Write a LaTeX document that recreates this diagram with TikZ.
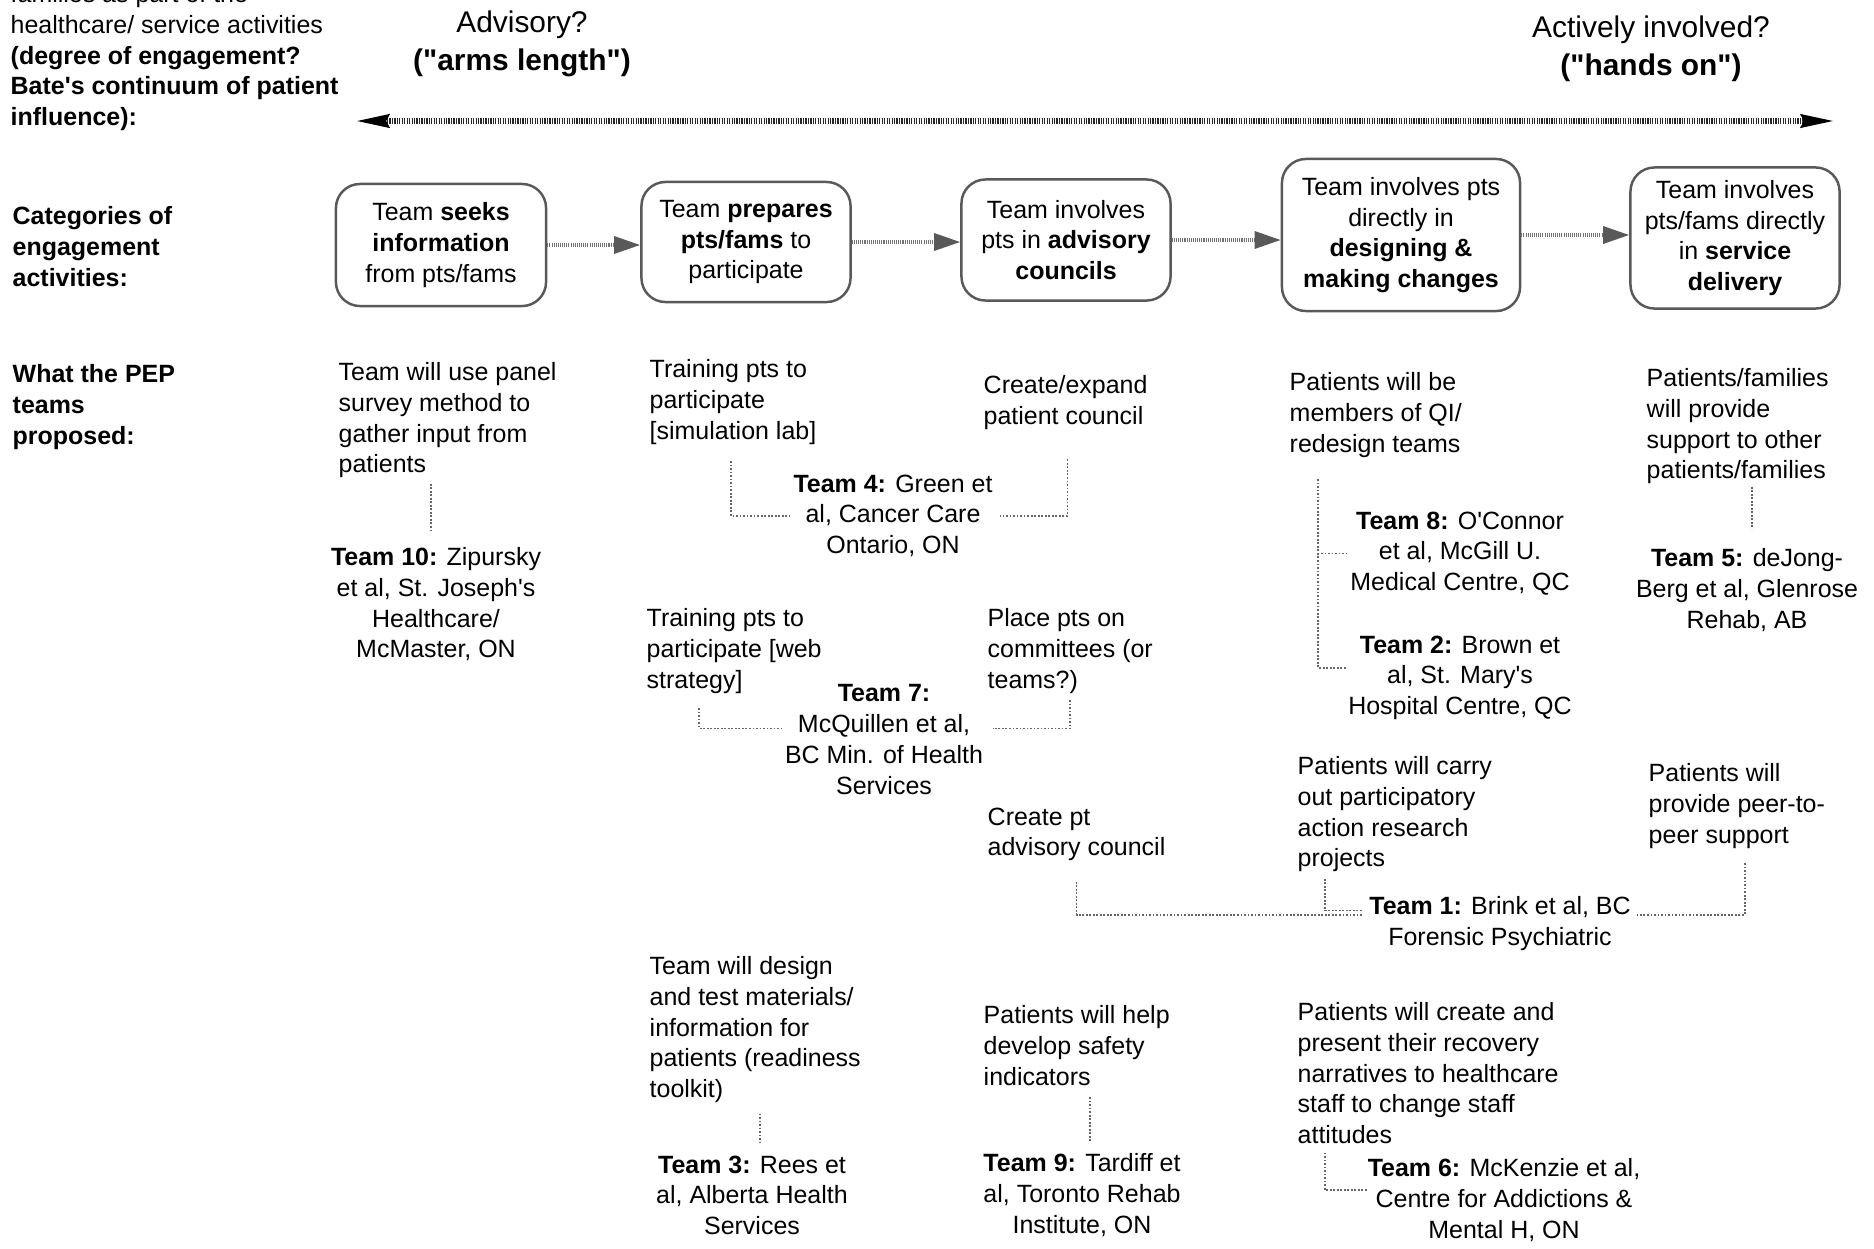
\documentclass[tikz,border=0pt]{standalone}
\usepackage{fontspec}
\setmainfont{Liberation Sans}
\usetikzlibrary{arrows.meta,positioning,calc}

\begin{document}
\begin{tikzpicture}[x=0.01cm,y=-0.01cm,
    font=\fontsize{7.1}{8.73}\selectfont,
    txt/.style={anchor=north west,align=left,inner sep=0pt},
    head/.style={txt,font=\fontsize{7.1}{8.73}\selectfont\bfseries},
    team/.style={anchor=north,align=center,inner sep=0pt},
    big/.style={font=\fontsize{8.5}{10.9}\selectfont},
    stage/.style={draw=black!65,line width=0.7pt,rounded corners=0.24cm,align=center,inner sep=0pt},
    flow/.style={black!55,line width=0.9pt,dash pattern=on 0.3pt off 0.3pt,
      -{Triangle[length=2.6mm,width=1.7mm,color=black!65,fill=black!65]}},
    continuum/.style={black!85,line width=1.5pt,dash pattern=on 0.35pt off 0.35pt,
      {Stealth[length=3.3mm,width=1.3mm,inset=0.3mm,color=black,fill=black]}-{Stealth[length=3.3mm,width=1.3mm,inset=0.3mm,color=black,fill=black]}},
    link/.style={black!60,line width=0.45pt,dash pattern=on 0.5pt off 0.5pt}]
  \useasboundingbox (0,0) rectangle (1874,1248);

  % scale of involvement
  \node[txt] (scale) at (10,-16) {families as part of the\\healthcare/ service activities\\\textbf{(degree of engagement?}\\\textbf{Bate\textquotesingle s continuum of patient}\\\textbf{influence):}};
  \node[team,big] (adv) at (522,10) {Advisory?\\\textbf{(\textquotedbl arms length\textquotedbl)}};
  \node[team,big] (act) at (1651,15) {Actively involved?\\\textbf{(\textquotedbl hands on\textquotedbl)}};
  \coordinate (weak) at (356,121);
  \coordinate (strong) at (1834,121);
  \draw[continuum] (weak) -- (strong);

  % categories
  \node[head] (cat) at (12,206) {Categories of\\engagement\\activities:};
  \node[stage,minimum width=2.1cm,minimum height=1.22cm] (s1) at (441,245) {Team \textbf{seeks}\\\textbf{information}\\from pts/fams};
  \node[stage,minimum width=2.09cm,minimum height=1.2cm] (s2) at (746,242) {Team \textbf{prepares}\\\textbf{pts/fams} to\\participate};
  \node[stage,minimum width=2.09cm,minimum height=1.21cm] (s3) at (1066,240) {Team involves\\pts in \textbf{advisory}\\\textbf{councils}};
  \node[stage,minimum width=2.38cm,minimum height=1.52cm] (s4) at (1401,235) {Team involves pts\\directly in\\\textbf{designing \&}\\\textbf{making changes}};
  \node[stage,minimum width=2.09cm,minimum height=1.41cm] (s5) at (1735,238) {Team involves\\pts/fams directly\\in \textbf{service}\\\textbf{delivery}};
  \foreach \a/\b in {s1/s2,s2/s3,s3/s4,s4/s5}
    \draw[flow] (\a.east) -- (\a.east -| \b.west);

  % what the teams proposed
  \node[head] (what) at (12,364) {What the PEP\\teams\\proposed:};

  \node[txt] (pr10) at (338,362) {Team will use panel\\survey method to\\gather input from\\patients};
  \node[team] (t10) at (436,547) {\textbf{Team 10:} Zipursky\\et al, St. Joseph\textquotesingle s\\Healthcare/\\McMaster, ON};
  \draw[link] ([xshift=-0.05cm,yshift=-0.05cm]pr10.south -| t10.north) -- ([xshift=-0.05cm,yshift=0.16cm]t10.north);

  \node[txt] (pr4a) at (649,359) {Training pts to\\participate\\{[}simulation lab{]}};
  \node[txt] (pr4b) at (983,375) {Create/expand\\patient council};
  \node[team] (t4) at (893,474) {\textbf{Team 4:} Green et\\al, Cancer Care\\Ontario, ON};
  \draw[link] ([xshift=-0.02cm,yshift=-0.16cm]pr4a.south) |- ([xshift=-0.03cm]t4.west);
  \draw[link] ([xshift=0.02cm,yshift=-0.29cm]pr4b.south) |- ([xshift=0.07cm]t4.east);

  \node[txt] (pr7a) at (646,608) {Training pts to\\participate {[}web\\strategy{]}};
  \node[txt] (pr7b) at (987,608) {Place pts on\\committees (or\\teams?)};
  \node[team] (t7) at (884,684) {\textbf{Team 7:}\\McQuillen et al,\\BC Min. of Health\\Services};
  \draw[link] ([xshift=0.53cm,yshift=-0.14cm]pr7a.south west) |- ([xshift=-0.03cm,yshift=0.11cm]t7.west);
  \draw[link] ([yshift=-0.06cm]pr7b.south) |- ([xshift=0.09cm,yshift=0.11cm]t7.east);

  \node[txt] (pr1a) at (987,807) {Create pt\\advisory council};
  \node[txt] (pr1b) at (1297,756) {Patients will carry\\out participatory\\action research\\projects};
  \node[txt] (pr1c) at (1648,763) {Patients will\\provide peer-to-\\peer support};
  \node[team] (t1) at (1500,896) {\textbf{Team 1:} Brink et al, BC\\Forensic Psychiatric};
  \draw[link] ([yshift=-0.2cm]pr1a.south) |- ([xshift=-0.06cm,yshift=0.09cm]t1.west);
  \draw[link] ([xshift=0.28cm,yshift=-0.06cm]pr1b.south west) |- ([xshift=-0.06cm,yshift=0.13cm]t1.west);
  \draw[link] ([xshift=0.08cm,yshift=-0.14cm]pr1c.south) |- ([xshift=0.06cm,yshift=0.09cm]t1.east);

  \node[txt] (pr8) at (1289,372) {Patients will be\\members of QI/\\redesign teams};
  \node[team] (t8) at (1460,511) {\textbf{Team 8:} O\textquotesingle Connor\\et al, McGill U.\\Medical Centre, QC};
  \node[team] (t2) at (1460,635) {\textbf{Team 2:} Brown et\\al, St. Mary\textquotesingle s\\Hospital Centre, QC};
  \draw[link] ([xshift=0.29cm,yshift=-0.21cm]pr8.south west) |- ([xshift=-0.02cm,yshift=0.1cm]t2.west);
  \draw[link] ([xshift=0.29cm,yshift=-0.21cm]pr8.south west) |- ([xshift=-0.02cm]t8.west);

  \node[txt] (pr5) at (1646,368) {Patients/families\\will provide\\support to other\\patients/families};
  \node[team] (t5) at (1747,548) {\textbf{Team 5:} deJong-\\Berg et al, Glenrose\\Rehab, AB};
  \draw[link] ([xshift=0.05cm,yshift=-0.02cm]pr5.south -| t5.north) -- ([xshift=0.05cm,yshift=0.19cm]t5.north);

  \node[txt] (pr3) at (649,956) {Team will design\\and test materials/\\information for\\patients (readiness\\toolkit)};
  \node[team] (t3) at (752,1155) {\textbf{Team 3:} Rees et\\al, Alberta Health\\Services};
  \draw[link] ([xshift=0.08cm,yshift=-0.1cm]pr3.south -| t3.north) -- ([xshift=0.08cm,yshift=0.11cm]t3.north);

  \node[txt] (pr9) at (983,1005) {Patients will help\\develop safety\\indicators};
  \node[team] (t9) at (1082,1153) {\textbf{Team 9:} Tardiff et\\al, Toronto Rehab\\Institute, ON};
  \draw[link] ([xshift=0.08cm,yshift=-0.11cm]pr9.south -| t9.north) -- ([xshift=0.08cm,yshift=0.12cm]t9.north);

  \node[txt] (pr6) at (1297,1002) {Patients will create and\\present their recovery\\narratives to healthcare\\staff to change staff\\attitudes};
  \node[team] (t6) at (1504,1158) {\textbf{Team 6:} McKenzie et al,\\Centre for Addictions \&\\Mental H, ON};
  \draw[link] ([xshift=0.28cm,yshift=-0.08cm]pr6.south west) |- ([yshift=0.1cm]t6.west);
\end{tikzpicture}
\end{document}
